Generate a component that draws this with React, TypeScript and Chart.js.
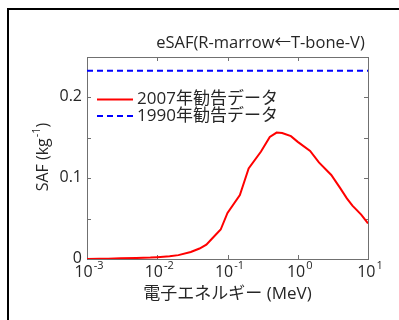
import React, { useEffect, useRef } from "react";
import { Chart, registerables } from "chart.js";

Chart.register(...registerables);

const energies = [0.001, 0.0015, 0.002, 0.003, 0.005, 0.008, 0.01, 0.015, 0.02, 0.03, 0.04, 0.05, 0.06, 0.08, 0.1, 0.15, 0.2, 0.3, 0.4, 0.5, 0.6, 0.8, 1, 1.5, 2, 3, 4, 5, 6, 8, 10];
const saf2007 = [0, 0.0002, 0.0004, 0.0008, 0.0012, 0.0018, 0.0023, 0.0033, 0.0048, 0.0086, 0.013, 0.0178, 0.025, 0.0365, 0.057, 0.079, 0.112, 0.133, 0.151, 0.1565, 0.156, 0.152, 0.145, 0.1337, 0.1195, 0.104, 0.088, 0.075, 0.066, 0.055, 0.044];
const energies1990 = [0.001, 10];
const saf1990 = [0.233, 0.233];

const xTickExps = [-3, -2, -1, 0, 1];
const yTicksAll = [0, 0.05, 0.1, 0.15, 0.2, 0.25];
const yTickLabels = ["0", "0.1", "0.2"];
const yTickLabelValues = [0, 0.1, 0.2];

const seriesLabels = ["2007年勧告データ", "1990年勧告データ"];
const titleText = "eSAF(R-marrow←T-bone-V)";
const xTitle = "電子エネルギー (MeV)";

const FONT = "'Open Sans', 'Noto Sans CJK JP', sans-serif";
const TEXT = "#262626";
const AXIS = "#707070";

const decorPlugin = {
  id: "decor",
  beforeDatasetsDraw(chart: any) {
    const { ctx, chartArea: a, scales } = chart;
    const xs = scales.x;
    const ys = scales.y;
    ctx.save();
    ctx.strokeStyle = AXIS;
    ctx.lineWidth = 1;
    ctx.strokeRect(Math.round(a.left) + 0.5, Math.round(a.top) + 0.5, Math.round(a.right - a.left), Math.round(a.bottom - a.top));
    const tl = 4;
    ctx.beginPath();
    xTickExps.forEach((e) => {
      const px = Math.round(xs.getPixelForValue(Math.pow(10, e))) + 0.5;
      ctx.moveTo(px, a.bottom);
      ctx.lineTo(px, a.bottom - tl);
      ctx.moveTo(px, a.top);
      ctx.lineTo(px, a.top + tl);
    });
    yTicksAll.forEach((v) => {
      const py = Math.round(ys.getPixelForValue(v)) + 0.5;
      ctx.moveTo(a.left, py);
      ctx.lineTo(a.left + tl, py);
      ctx.moveTo(a.right, py);
      ctx.lineTo(a.right - tl, py);
    });
    ctx.stroke();
    ctx.restore();
  },
  afterDatasetsDraw(chart: any) {
    const { ctx, chartArea: a, scales } = chart;
    const xs = scales.x;
    const ys = scales.y;
    ctx.save();
    ctx.fillStyle = TEXT;
    // y tick labels
    ctx.font = `16px ${FONT}`;
    ctx.textAlign = "right";
    ctx.textBaseline = "middle";
    yTickLabelValues.forEach((v, i) => {
      ctx.fillText(yTickLabels[i], a.left - 5, ys.getPixelForValue(v) - 1);
    });
    // x tick labels with superscript
    xTickExps.forEach((e) => {
      const px = xs.getPixelForValue(Math.pow(10, e));
      ctx.font = `16px ${FONT}`;
      const wb = ctx.measureText("10").width;
      ctx.font = `11px ${FONT}`;
      const es = String(e);
      const we = ctx.measureText(es).width;
      const start = px + 2 - (wb + we + 1) / 2;
      ctx.textAlign = "left";
      ctx.textBaseline = "alphabetic";
      ctx.font = `16px ${FONT}`;
      ctx.fillText("10", start, a.bottom + 18);
      ctx.font = `11px ${FONT}`;
      ctx.fillText(es, start + wb + 1, a.bottom + 10);
    });
    // x title
    ctx.font = `17px ${FONT}`;
    ctx.textAlign = "center";
    ctx.textBaseline = "middle";
    ctx.fillText(xTitle, (a.left + a.right) / 2, 294);
    // title
    ctx.font = `16.5px ${FONT}`;
    ctx.fillText(titleText, 260.5, 43);
    // y title rotated with superscript
    ctx.save();
    ctx.translate(42, 157);
    ctx.rotate(-Math.PI / 2);
    ctx.font = `16px ${FONT}`;
    const p1 = "SAF (kg";
    const p3 = ")";
    const w1 = ctx.measureText(p1).width;
    const w3 = ctx.measureText(p3).width;
    ctx.font = `11px ${FONT}`;
    const w2 = ctx.measureText("-1").width;
    const total = w1 + w2 + w3 + 1;
    let x0 = -total / 2;
    ctx.textAlign = "left";
    ctx.textBaseline = "alphabetic";
    ctx.font = `16px ${FONT}`;
    ctx.fillText(p1, x0, 6);
    ctx.font = `11px ${FONT}`;
    ctx.fillText("-1", x0 + w1 + 1, -2);
    ctx.font = `16px ${FONT}`;
    ctx.fillText(p3, x0 + w1 + w2 + 1, 6);
    ctx.restore();
    // legend
    const ds = chart.data.datasets;
    const rows = [99.5, 116];
    ds.forEach((d: any, i: number) => {
      const y = rows[i];
      ctx.save();
      ctx.strokeStyle = d.borderColor;
      ctx.lineWidth = d.borderWidth;
      ctx.setLineDash(d.borderDash || []);
      ctx.beginPath();
      ctx.moveTo(97, y);
      ctx.lineTo(133, y);
      ctx.stroke();
      ctx.restore();
      ctx.font = `17px ${FONT}`;
      ctx.fillStyle = TEXT;
      ctx.textAlign = "left";
      ctx.textBaseline = "middle";
      ctx.fillText(d.label, 137, y);
    });
    ctx.restore();
  },
};

export default function App() {
  const ref = useRef<HTMLCanvasElement | null>(null);
  useEffect(() => {
    if (!ref.current) return;
    const chart = new Chart(ref.current, {
      type: "line",
      data: {
        datasets: [
          {
            label: seriesLabels[0],
            data: energies.map((e, i) => ({ x: e, y: saf2007[i] })),
            borderColor: "#ff0000",
            borderWidth: 2,
            pointRadius: 0,
            tension: 0,
            fill: false,
          },
          {
            label: seriesLabels[1],
            data: energies1990.map((e, i) => ({ x: e, y: saf1990[i] })),
            borderColor: "#0000ff",
            borderWidth: 2,
            borderDash: [6, 4],
            pointRadius: 0,
            tension: 0,
            fill: false,
          },
        ],
      },
      options: {
        animation: false,
        responsive: false,
        devicePixelRatio: 1,
        layout: { padding: { left: 87, right: 31, top: 57, bottom: 61 } },
        plugins: { legend: { display: false }, tooltip: { enabled: false }, title: { display: false } },
        scales: {
          x: { type: "logarithmic", min: 0.001, max: 10, display: false },
          y: { type: "linear", min: 0, max: 0.25, display: false },
        },
      },
      plugins: [decorPlugin],
    } as any);
    return () => chart.destroy();
  }, []);
  return (
    <>
      <div style={{ position: "fixed", left: 7, top: 8, width: 600, height: 600, borderLeft: "2px solid #000", borderTop: "2px solid #000", boxSizing: "border-box" }} />
      <div style={{ position: "fixed", left: 0, top: 0, width: 399, height: 320 }}>
        <canvas ref={ref} width={399} height={320} style={{ width: 399, height: 320 }} />
      </div>
    </>
  );
}
